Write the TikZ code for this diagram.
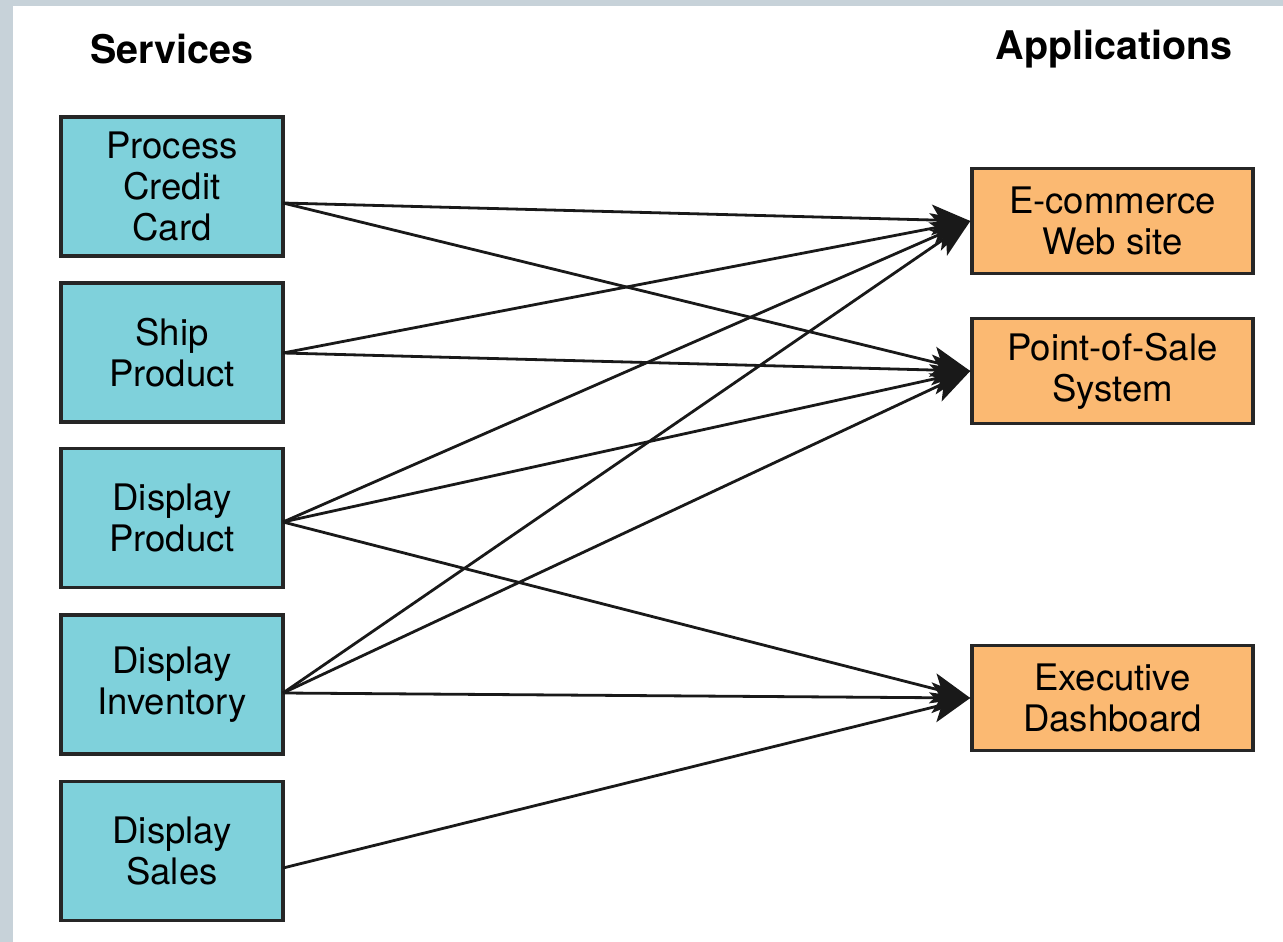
\documentclass[tikz,border=0pt]{standalone}
\usepackage{fontspec}
\setmainfont{TeX Gyre Heros}
\usetikzlibrary{arrows.meta}
\definecolor{svcblue}{HTML}{7FD1DB}
\definecolor{apporange}{HTML}{FBB972}
\definecolor{frame}{HTML}{C7D2D9}

\begin{document}
\begin{tikzpicture}[x=0.75pt, y=-0.75pt,
  svc/.style={draw=black!85, line width=2.6pt, fill=svcblue, align=center,
    minimum width=166.5pt, minimum height=104pt, inner sep=0pt,
    font=\fontsize{27.4}{30.75}\selectfont},
  app/.style={svc, fill=apporange, minimum width=210.75pt, minimum height=78.75pt},
  title/.style={font=\fontsize{29.6}{34}\selectfont\bfseries},
  link/.style={line width=2.1pt, black!90,
    -{Stealth[length=29pt, width=23pt, inset=7pt]}}]

\useasboundingbox (0,0) rectangle (1283,942);
\fill[white] (0,0) rectangle (1283,942);
\fill[frame] (0,0) rectangle (13,942);
\fill[frame] (0,0) rectangle (1283,6);

\node[title] (services) at (172,49) {Services};
\node[title] (apps) at (1114,49) {Applications};

\node[svc] (pcc) at (172,186.5) {Process\\Credit\\Card};
\node[svc] (ship) at (172,352.5) {Ship\\Product};
\node[svc] (dprod) at (172,518) {Display\\Product};
\node[svc] (dinv) at (172,684.5) {Display\\Inventory};
\node[svc] (dsales) at (172,851) {Display\\Sales};

\node[app] (ecom) at (1112.5,221) {E-commerce\\Web site};
\node[app] (pos) at (1112.5,371) {Point-of-Sale\\System};
\node[app] (dash) at (1112.5,698) {Executive\\Dashboard};

\coordinate (pcc-out) at (283,203);
\coordinate (ship-out) at (283,353);
\coordinate (dprod-out) at (283,522);
\coordinate (dinv-out) at (283,693);
\coordinate (dsales-out) at (283,868);

\draw[link] (pcc-out) -- (ecom.west);
\draw[link] (pcc-out) -- (pos.west);
\draw[link] (ship-out) -- (ecom.west);
\draw[link] (ship-out) -- (pos.west);
\draw[link] (dprod-out) -- (ecom.west);
\draw[link] (dprod-out) -- (pos.west);
\draw[link] (dprod-out) -- (dash.west);
\draw[link] (dinv-out) -- (ecom.west);
\draw[link] (dinv-out) -- (pos.west);
\draw[link] (dinv-out) -- (dash.west);
\draw[link] (dsales-out) -- (dash.west);

\end{tikzpicture}
\end{document}
